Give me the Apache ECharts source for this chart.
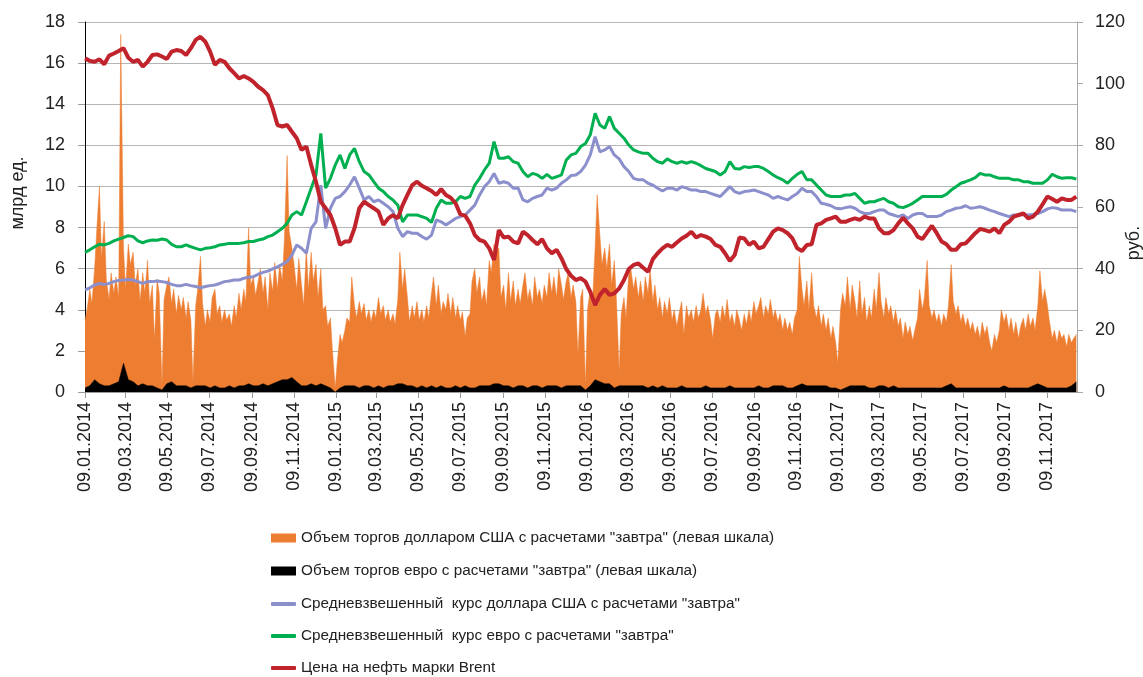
<!DOCTYPE html>
<html><head><meta charset="utf-8">
<script src="https://cdn.jsdelivr.net/npm/echarts@6/dist/echarts.min.js"></script>
<style>html,body{margin:0;padding:0;background:#fff}#c{width:1143px;height:677px}</style>
</head><body><div id="c"></div>
<script>
// ---- data ----
// rates / Brent: weekly samples from 09.01.2014 (every 7 days)
// USD volume: half-weekly samples (every 3.5 days) from 09.01.2014
// EUR volume: weekly samples
const startDate = '2014-01-09';
const endDate = '2017-12-22';
const rateStepDays = 7;
const volStepDays = 3.5;

const seriesNames = [
  'Объем торгов долларом США с расчетами "завтра" (левая шкала)',
  'Объем торгов евро с расчетами "завтра" (левая шкала)',
  'Средневзвешенный  курс доллара США с расчетами "завтра"',
  'Средневзвешенный  курс евро с расчетами "завтра"',
  'Цена на нефть марки Brent'
];
const leftAxisName = 'млрд ед.';
const rightAxisName = 'руб.';

const usdVolume = [
  3.5,4.0,5.0,4.3,6.0,7.8,10.0,6.5,8.3,5.5,
  4.5,5.8,4.8,5.6,4.6,17.4,7.0,5.0,7.2,6.2,
  6.8,5.2,6.0,4.4,5.8,4.8,6.4,4.3,5.2,2.5,
  5.5,4.8,0.3,4.5,5.2,5.6,4.3,5.0,3.8,4.7,
  4.0,4.6,3.6,4.4,3.5,0.5,4.2,5.0,6.6,4.3,
  3.2,4.0,3.4,4.6,5.0,3.8,4.2,3.4,4.0,3.5,
  3.8,3.2,4.2,3.6,4.8,4.0,5.0,4.4,8.0,5.2,
  5.6,4.7,5.4,6.0,4.8,5.6,4.0,5.8,4.9,6.3,
  5.0,6.2,5.4,7.4,11.5,7.8,7.0,6.2,5.0,6.5,
  5.2,4.2,7.0,5.0,6.8,5.4,6.2,4.6,6.0,4.0,
  4.2,3.2,3.6,2.0,0.2,1.5,2.8,2.4,3.0,3.6,
  3.4,5.6,4.2,3.6,4.4,3.8,4.3,3.5,4.0,3.4,
  4.0,3.6,4.6,3.8,4.2,3.5,4.0,3.4,3.8,3.3,
  4.5,6.8,5.0,6.0,4.6,3.4,4.2,3.6,4.4,3.5,
  4.0,3.4,4.2,3.6,4.8,5.6,4.2,5.2,3.8,4.4,
  4.0,4.8,3.8,4.6,3.6,4.2,3.5,3.9,2.7,3.6,
  3.8,5.4,6.0,4.8,5.6,4.4,5.0,4.2,6.4,5.8,
  7.2,6.8,7.0,4.6,5.2,4.0,5.8,4.4,5.4,4.2,
  5.0,4.3,5.2,5.8,4.5,5.0,4.2,5.6,4.6,5.0,
  4.3,5.2,4.6,5.8,4.8,5.6,4.6,6.0,5.2,4.5,
  5.4,5.8,4.6,5.2,4.4,1.8,4.6,5.0,0.3,4.0,
  5.0,4.2,7.0,9.6,7.6,6.2,7.0,6.0,7.2,5.2,
  6.4,4.5,1.0,3.8,4.6,3.6,5.8,6.0,5.0,5.6,
  4.6,5.4,4.4,5.6,4.8,6.0,4.4,5.2,4.0,4.6,
  3.6,4.4,3.8,4.6,3.5,4.0,3.2,3.8,4.4,2.8,
  4.2,3.6,4.0,3.4,4.2,3.6,4.0,4.8,3.8,4.2,
  3.5,2.6,3.8,4.0,3.4,4.2,3.6,4.5,3.4,3.8,
  3.2,4.0,3.5,3.0,3.8,3.3,4.0,3.4,4.4,3.8,
  4.2,4.6,3.6,4.2,3.8,4.5,3.6,4.0,3.4,3.8,
  3.0,3.6,3.0,3.4,2.8,3.6,4.0,6.6,5.0,4.2,
  5.4,4.0,5.8,4.2,3.6,4.2,3.2,3.8,3.0,3.6,
  2.6,3.2,2.4,1.4,4.0,4.8,4.2,5.6,4.0,5.2,
  4.4,3.6,5.4,3.8,4.6,3.4,4.2,3.6,5.0,4.0,
  5.8,4.4,3.6,4.6,3.8,4.2,3.4,4.0,3.2,3.6,
  2.6,3.4,2.8,3.2,2.5,3.0,3.6,5.0,4.0,4.6,
  6.4,4.2,3.6,4.0,3.4,3.8,3.2,3.8,3.4,4.2,
  6.2,4.4,3.8,4.2,3.4,3.8,3.2,3.6,3.0,3.4,
  2.8,3.2,2.6,3.4,2.8,3.2,2.4,2.0,2.8,2.4,
  3.0,4.0,3.4,3.8,3.0,3.6,2.8,3.4,2.6,3.2,
  3.6,3.0,3.8,3.2,3.6,3.0,4.2,5.9,4.4,5.0,
  4.2,3.4,2.6,3.0,2.4,3.0,2.6,2.8,2.2,2.8,
  2.4,2.6,2.8
];
const eurVolume = [
  0.2,0.3,0.6,0.4,0.3,0.3,0.4,0.5,1.4,0.6,0.5,0.3,0.4,0.3,0.3,0.2,0.1,0.4,0.5,0.3,0.3,0.3,0.2,0.3,0.3,0.3,0.2,0.3,0.2,0.2,0.3,0.2,0.3,0.3,0.4,
  0.3,0.3,0.4,0.3,0.4,0.5,0.6,0.6,0.7,0.5,0.3,0.3,0.4,0.3,0.4,0.3,0.2,0.0,0.2,0.3,0.3,0.3,0.2,0.3,0.3,0.2,0.3,0.2,0.3,0.3,0.4,0.4,0.3,0.3,
  0.2,0.3,0.2,0.3,0.2,0.3,0.2,0.2,0.3,0.2,0.3,0.2,0.2,0.3,0.3,0.3,0.4,0.4,0.3,0.3,0.2,0.3,0.3,0.2,0.3,0.3,0.2,0.3,0.3,0.3,0.2,0.3,0.3,0.3,0.3,
  0.1,0.3,0.6,0.5,0.4,0.4,0.2,0.3,0.3,0.3,0.3,0.3,0.3,0.2,0.3,0.2,0.3,0.2,0.2,0.2,0.3,0.2,0.2,0.2,0.2,0.3,0.2,0.2,0.2,0.2,0.3,0.2,0.2,0.2,
  0.2,0.2,0.3,0.2,0.2,0.3,0.3,0.3,0.2,0.2,0.3,0.4,0.3,0.3,0.3,0.3,0.3,0.2,0.2,0.1,0.2,0.3,0.3,0.3,0.3,0.2,0.2,0.3,0.3,0.2,0.3,0.2,0.2,0.2,
  0.2,0.2,0.2,0.2,0.2,0.2,0.2,0.3,0.4,0.2,0.2,0.2,0.2,0.2,0.2,0.2,0.2,0.2,0.2,0.3,0.2,0.2,0.2,0.2,0.2,0.3,0.4,0.3,0.2,0.2,0.2,0.2,0.2,0.3,0.5
];
const usdRate = [
  33.1,33.8,34.7,35.2,34.9,35.2,35.8,36.2,36.3,36.5,36.3,35.8,35.2,35.8,35.8,36.0,35.8,35.5,34.9,34.5,34.5,34.9,34.5,34.2,33.8,34.2,34.5,34.7,35.2,35.8,36.0,36.3,36.3,36.9,37.2,
  37.4,38.2,38.8,39.2,39.9,40.6,41.4,42.3,44.4,47.7,46.6,45.0,53.1,55.2,67.1,53.1,59.6,62.8,63.4,65.0,67.1,69.8,66.1,62.3,63.4,61.7,62.3,61.2,60.1,58.5,53.1,50.4,52.0,51.5,
  51.5,50.4,49.6,50.9,55.8,55.2,54.2,55.2,56.3,56.9,57.4,59.0,60.6,63.9,66.6,68.2,70.9,67.7,68.2,67.7,66.1,66.1,62.3,61.7,62.8,63.4,63.9,66.1,65.5,66.1,67.7,68.8,70.2,70.4,71.5,
  73.6,76.9,82.8,77.9,78.5,79.6,76.9,75.6,73.1,71.5,69.3,68.8,68.8,67.7,67.1,66.1,65.2,66.1,66.1,65.5,66.6,66.1,65.5,65.5,65.0,65.0,64.4,63.9,63.4,65.0,66.6,65.0,64.4,65.0,
  65.2,65.5,65.0,64.4,63.9,62.8,63.4,62.8,62.3,63.4,64.4,66.1,65.0,65.0,63.4,61.2,60.9,60.4,59.6,59.4,59.8,60.1,59.6,58.5,57.9,57.9,58.5,59.0,59.0,57.9,57.4,56.9,57.4,56.3,
  57.4,57.9,57.9,56.9,56.9,56.9,57.4,58.5,59.0,59.6,59.8,60.4,59.6,59.8,60.1,59.6,59.0,58.5,57.9,57.4,56.9,57.4,57.4,57.6,57.4,57.6,57.9,58.5,59.4,59.8,59.6,59.0,59.0,59.0,58.5
];
const eurRate = [
  45.3,46.1,47.1,47.9,47.7,48.2,49.0,49.6,50.1,50.7,50.4,49.0,48.4,49.0,49.3,49.2,49.6,49.3,47.9,47.1,47.1,47.7,47.1,46.6,46.1,46.6,46.8,47.1,47.7,47.9,48.2,48.2,48.2,48.4,48.8,
  48.8,49.3,49.6,50.4,50.9,52.0,53.1,54.7,57.4,58.5,57.4,61.7,66.1,70.4,83.9,66.1,69.3,73.6,76.9,72.5,76.9,79.0,74.7,71.5,70.4,68.2,66.1,65.0,63.4,62.3,60.6,55.2,57.4,57.4,
  57.4,56.9,56.3,55.0,59.6,62.3,61.2,61.2,61.7,63.4,62.8,63.4,67.1,69.3,72.0,74.2,81.2,75.8,75.8,76.3,74.7,74.2,71.5,69.8,70.9,70.4,69.3,70.6,69.3,69.8,70.4,75.2,76.9,77.4,79.6,
  80.6,83.4,90.4,86.6,85.5,89.3,85.5,83.9,82.3,80.1,78.5,77.9,77.4,77.4,75.8,74.7,74.2,75.6,74.7,74.2,74.7,74.2,74.7,74.2,73.4,72.5,72.0,71.5,70.4,71.5,74.7,72.5,72.3,73.1,
  72.8,73.1,73.1,72.5,71.5,70.4,69.5,68.8,67.7,69.3,70.6,71.5,68.8,68.8,67.1,65.5,63.9,63.4,63.4,63.4,63.9,63.9,64.4,62.8,61.2,61.7,61.7,62.3,62.8,61.7,61.2,60.1,59.8,60.4,
  61.2,62.3,63.4,63.4,63.4,63.4,63.4,64.1,65.5,66.6,67.7,68.2,68.8,69.5,70.9,70.4,70.4,69.8,69.3,69.3,69.3,68.8,68.8,68.2,68.2,67.7,67.7,67.7,68.8,70.6,69.8,69.3,69.5,69.5,69.1
];
const brent = [
  108.2,107.4,107.1,107.9,106.3,109.1,109.8,110.6,111.5,108.4,107.1,107.7,105.5,107.1,109.3,109.5,108.8,108.0,110.4,110.9,110.6,109.3,111.5,114.2,115.2,113.6,110.4,106.1,107.7,107.1,105.0,103.4,101.7,102.5,101.7,
  100.6,99.0,97.9,96.3,92.0,86.6,86.1,86.6,84.4,82.3,78.5,79.6,73.6,68.2,61.7,59.6,57.4,53.1,47.7,48.8,48.8,53.1,59.6,61.7,60.6,59.6,58.5,54.2,56.3,57.4,56.3,60.6,63.9,67.1,
  68.2,66.9,66.1,65.2,63.9,65.8,63.9,63.0,61.2,57.6,57.2,54.7,50.9,49.3,48.8,46.6,42.8,52.5,50.1,50.4,48.8,48.2,52.0,50.9,49.3,47.9,49.6,46.6,45.0,46.1,43.4,39.9,37.7,36.3,36.9,
  35.8,32.5,28.2,31.5,33.4,31.5,32.0,33.6,36.3,39.9,41.2,41.7,40.3,39.0,43.1,45.0,46.6,47.7,47.1,48.5,49.8,50.7,52.0,50.1,50.9,50.4,49.6,47.7,47.1,45.0,42.5,44.4,50.1,49.8,
  47.7,48.8,46.6,47.1,49.6,52.0,53.1,52.5,51.5,49.8,46.6,45.7,47.7,47.9,54.2,54.7,55.8,56.3,56.9,55.2,55.2,55.8,56.3,55.8,56.9,56.3,56.3,53.1,51.5,51.5,52.5,54.7,56.5,54.7,
  53.1,50.4,49.6,51.8,53.9,51.5,48.8,47.9,46.1,46.1,47.9,48.2,49.8,51.5,52.9,52.5,52.0,53.1,51.5,54.2,55.2,56.9,57.4,57.9,56.3,56.9,58.5,60.9,63.4,62.6,61.7,62.8,62.3,62.3,63.4
];

// ---- calendar categories (one per day) ----
function fmt(d) {
  const dd = String(d.getUTCDate()).padStart(2, '0');
  const mm = String(d.getUTCMonth() + 1).padStart(2, '0');
  return dd + '.' + mm + '.' + d.getUTCFullYear();
}
const days = [];
for (let t = Date.parse(startDate + 'T00:00:00Z'); t <= Date.parse(endDate + 'T00:00:00Z'); t += 86400000) {
  days.push(fmt(new Date(t)));
}
const pairs = (arr, step) => arr.map((v, i) => [days[Math.floor(step * i)], v]);

const showLabel = (idx, val) => val.slice(0, 2) === '09' && (parseInt(val.slice(3, 5), 10) % 2 === 1);

const FONT = 'Liberation Sans';
const TXT = '#222';

const legendTops = [528, 561, 594, 626, 658];
const legendIcons = ['rect', 'rect', 'roundRect', 'roundRect', 'roundRect'];
const legendIconH = [9, 9, 4, 4, 4];

const chart = echarts.init(document.getElementById('c'), null, { renderer: 'canvas' });
chart.setOption({
  animation: false,
  backgroundColor: '#fff',
  textStyle: { fontFamily: FONT },
  grid: { left: 85, right: 66, top: 22, bottom: 285, containLabel: false },
  xAxis: {
    type: 'category', data: days, boundaryGap: false,
    axisLine: { lineStyle: { color: '#9a9a9a', width: 1 } },
    axisTick: { show: true, interval: showLabel, length: 6, lineStyle: { color: '#9a9a9a' } },
    axisLabel: { interval: showLabel, rotate: 90, margin: 10, fontSize: 18, color: TXT, fontFamily: FONT },
    splitLine: { show: false }
  },
  yAxis: [
    { type: 'value', min: 0, max: 18, interval: 2,
      axisLine: { show: true, lineStyle: { color: '#000', width: 1 } },
      axisTick: { show: true, length: 7, lineStyle: { color: '#9a9a9a' } },
      axisLabel: { margin: 20, fontSize: 18, color: TXT, fontFamily: FONT },
      splitLine: { show: true, lineStyle: { color: '#b5b5b5', width: 1 } } },
    { type: 'value', min: 0, max: 120, interval: 20, position: 'right',
      axisLine: { show: true, lineStyle: { color: '#a8a8a8', width: 1 } },
      axisTick: { show: true, length: 6, lineStyle: { color: '#a8a8a8' } },
      axisLabel: { margin: 18, fontSize: 18, color: TXT, fontFamily: FONT },
      splitLine: { show: false } }
  ],
  legend: seriesNames.map((name, k) => ({
    orient: 'vertical', left: 271, top: legendTops[k], padding: 0,
    itemWidth: 25, itemHeight: legendIconH[k], selectedMode: false,
    textStyle: { fontSize: 15.3, lineHeight: 20, color: TXT, fontFamily: FONT },
    data: [{ name: name, icon: legendIcons[k] }]
  })),
  graphic: [
    { type: 'text', x: 18, y: 193, rotation: Math.PI / 2,
      style: { text: leftAxisName, fontSize: 18, fontFamily: FONT, fill: TXT, align: 'center', verticalAlign: 'middle' } },
    { type: 'text', x: 1134, y: 243, rotation: Math.PI / 2,
      style: { text: rightAxisName, fontSize: 18, fontFamily: FONT, fill: TXT, align: 'center', verticalAlign: 'middle' } }
  ],
  series: [
    { name: seriesNames[0], type: 'line', yAxisIndex: 0, data: pairs(usdVolume, volStepDays), symbol: 'none',
      color: '#ED7D31', lineStyle: { width: 0.5, color: '#ED7D31' }, areaStyle: { color: '#ED7D31', opacity: 1 }, z: 1 },
    { name: seriesNames[1], type: 'line', yAxisIndex: 0, data: pairs(eurVolume, rateStepDays), symbol: 'none',
      color: '#000', lineStyle: { width: 0.5, color: '#000' }, areaStyle: { color: '#000', opacity: 1 }, z: 2 },
    { name: seriesNames[2], type: 'line', yAxisIndex: 1, data: pairs(usdRate, rateStepDays), symbol: 'none',
      color: '#8B8FCC', lineStyle: { width: 3, color: '#8B8FCC' }, z: 3 },
    { name: seriesNames[3], type: 'line', yAxisIndex: 1, data: pairs(eurRate, rateStepDays), symbol: 'none',
      color: '#00B050', lineStyle: { width: 3, color: '#00B050' }, z: 4 },
    { name: seriesNames[4], type: 'line', yAxisIndex: 1, data: pairs(brent, rateStepDays), symbol: 'none',
      color: '#C0232B', lineStyle: { width: 4, color: '#C0232B' }, z: 5 }
  ]
});
</script></body></html>
